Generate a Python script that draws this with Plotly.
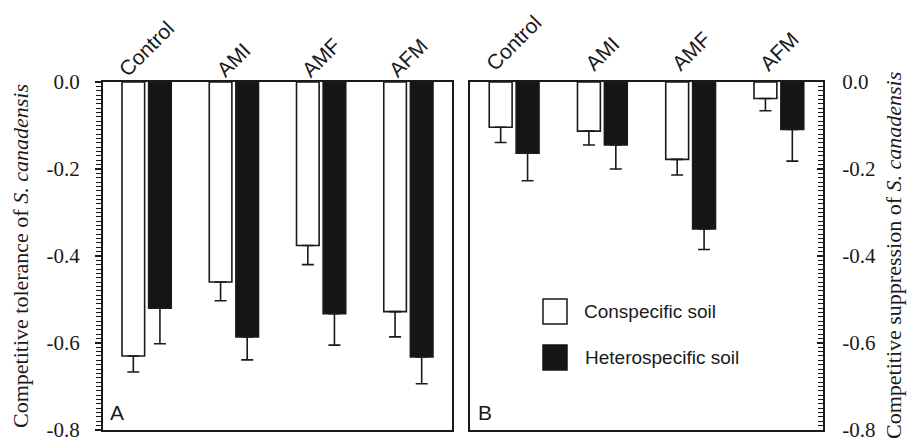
import plotly.graph_objects as go

categories = ["Control", "AMI", "AMF", "AFM"]

# Panel A: competitive tolerance
tol_consp = [-0.630, -0.460, -0.376, -0.528]
tol_consp_err = [0.037, 0.043, 0.044, 0.058]
tol_hetero = [-0.520, -0.586, -0.533, -0.632]
tol_hetero_err = [0.082, 0.053, 0.072, 0.062]

# Panel B: competitive suppression
sup_consp = [-0.104, -0.113, -0.178, -0.038]
sup_consp_err = [0.035, 0.032, 0.036, 0.028]
sup_hetero = [-0.164, -0.145, -0.338, -0.109]
sup_hetero_err = [0.063, 0.055, 0.047, 0.073]

y_ticks = [0.0, -0.2, -0.4, -0.6, -0.8]
y_ticklabels = ["0.0", "-0.2", "-0.4", "-0.6", "-0.8"]

W, H = 912, 441
L, R, T, B = 103, 89, 82, 11
pw, ph = W - L - R, H - T - B


def px(x):
    return (x - L) / pw


def py(y):
    return (H - B - y) / ph


BLACK = "#151515"


def bar(vals, errs, fill, xa, ya, name):
    return go.Bar(
        x=categories, y=vals, name=name, xaxis=xa, yaxis=ya,
        marker=dict(color=fill, line=dict(color="#1a1a1a", width=1.6)),
        error_y=dict(type="data", symmetric=False, array=[0] * len(errs),
                     arrayminus=errs, color="#1a1a1a", thickness=1.6, width=6),
        showlegend=False,
    )


fig = go.Figure()
fig.add_trace(bar(tol_consp, tol_consp_err, "white", "x", "y", "Conspecific soil"))
fig.add_trace(bar(tol_hetero, tol_hetero_err, BLACK, "x", "y", "Heterospecific soil"))
fig.add_trace(bar(sup_consp, sup_consp_err, "white", "x2", "y2", "Conspecific soil"))
fig.add_trace(bar(sup_hetero, sup_hetero_err, BLACK, "x2", "y2", "Heterospecific soil"))

axis_common = dict(showline=True, linecolor="#1a1a1a", linewidth=2, mirror=True,
                   showgrid=False, zeroline=False, automargin=False)

xa_dom = [0, px(452)]
xb_dom = [px(470), 1]

yfont = dict(family="Liberation Serif, Times New Roman, serif", size=21, color="#1a1a1a")
yrange = [-0.8002, 0]

fig.update_layout(
    width=W, height=H,
    margin=dict(l=L, r=R, t=T, b=B, autoexpand=False),
    paper_bgcolor="white", plot_bgcolor="white",
    barmode="group", bargap=0.39, bargroupgap=0.15,
    xaxis=dict(domain=xa_dom, anchor="y", showticklabels=False, ticks="", **axis_common),
    xaxis2=dict(domain=xb_dom, anchor="y2", showticklabels=False, ticks="", **axis_common),
    yaxis=dict(domain=[0, 1], anchor="x", range=yrange, side="left",
               tickvals=y_ticks, ticktext=y_ticklabels, ticks="outside", ticklen=6,
               tickwidth=1.5, tickcolor="#1a1a1a", tickfont=yfont, ticklabelstandoff=11,
               ticklabeloverflow="allow",
               minor=dict(dtick=0.01, ticks="outside", ticklen=5, tickwidth=1, tickcolor="#1a1a1a"),
               **axis_common),
    yaxis2=dict(domain=[0, 1], anchor="x2", range=yrange, side="right",
                tickvals=y_ticks, ticktext=y_ticklabels, ticks="inside", ticklen=6,
                tickwidth=1.5, tickcolor="#1a1a1a", tickfont=yfont, ticklabelstandoff=13,
                ticklabeloverflow="allow",
                minor=dict(dtick=0.01, ticks="inside", ticklen=5, tickwidth=1, tickcolor="#1a1a1a"),
                **axis_common),
)

sans = dict(family="Liberation Sans, Arial, sans-serif", size=19, color="#1a1a1a")
catfont = dict(family="Liberation Sans, Arial, sans-serif", size=21, color="#1a1a1a")
ann = []
for c in categories:
    ann.append(dict(x=c, xref="x", y=py(84), yref="paper", text=c, textangle=-45,
                    showarrow=False, xanchor="center", yanchor="bottom", font=catfont))
    ann.append(dict(x=c, xref="x2", y=py(78), yref="paper", text=c, textangle=-45,
                    showarrow=False, xanchor="center", yanchor="bottom", font=catfont))

panel_font = dict(family="Liberation Sans, Arial", size=21, color="#1a1a1a")
ann.append(dict(x=px(108), y=py(426), xref="paper", yref="paper", text="A", showarrow=False,
                xanchor="left", yanchor="bottom", font=panel_font))
ann.append(dict(x=px(476), y=py(426), xref="paper", yref="paper", text="B", showarrow=False,
                xanchor="left", yanchor="bottom", font=panel_font))

serif = dict(family="Liberation Serif, Times New Roman, serif", size=22, color="#1a1a1a")
ann.append(dict(x=px(20), y=py(256), xref="paper", yref="paper",
                text="Competitive tolerance of <i>S. canadensis</i>", textangle=-90,
                showarrow=False, xanchor="center", yanchor="middle", font=serif))
ann.append(dict(x=px(893), y=py(256), xref="paper", yref="paper",
                text="Competitive suppression of <i>S. canadensis</i>", textangle=-90,
                showarrow=False, xanchor="center", yanchor="middle", font=serif))

# Legend (manual)
shapes = [
    dict(type="rect", xref="paper", yref="paper", x0=px(543), x1=px(567), y0=py(324), y1=py(299),
         fillcolor="white", line=dict(color="#1a1a1a", width=1.5)),
    dict(type="rect", xref="paper", yref="paper", x0=px(543), x1=px(567), y0=py(370), y1=py(345),
         fillcolor=BLACK, line=dict(color=BLACK, width=1.5)),
]
ann.append(dict(x=px(582), y=py(311), xref="paper", yref="paper", text="Conspecific soil",
                showarrow=False, xanchor="left", yanchor="middle", font=sans))
ann.append(dict(x=px(583), y=py(357), xref="paper", yref="paper", text="Heterospecific soil",
                showarrow=False, xanchor="left", yanchor="middle", font=sans))

fig.update_layout(annotations=ann, shapes=shapes)
fig.write_html("out.html", config={"displayModeBar": False},
               post_script="document.body.style.margin='0';document.body.style.overflow='hidden';")
